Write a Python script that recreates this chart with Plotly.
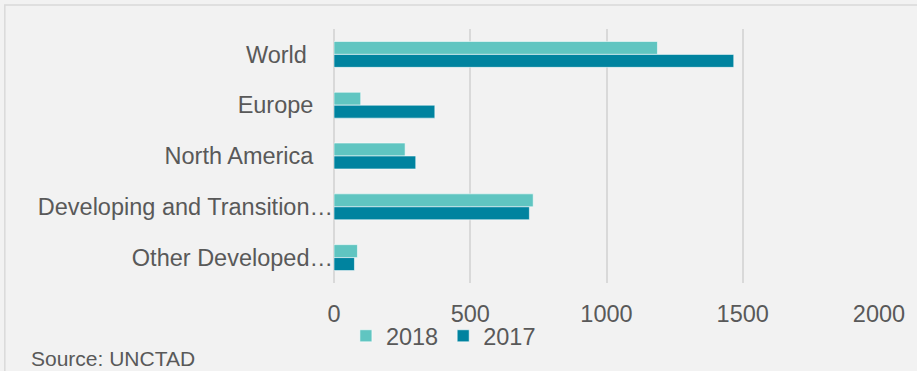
import plotly.graph_objects as go

categories = ["World", "Europe", "North America", "Developing and Transition…", "Other Developed…"]
values_2018 = [1187, 98, 261, 731, 86]
values_2017 = [1467, 370, 300, 717, 75]
x_ticks = [0, 500, 1000, 1500, 2000]
source_text = "Source: UNCTAD"

FONT = "Liberation Sans, Arial, sans-serif"
TXT = "#595959"
GRID = "#d9d9d9"

# Excel draws un-truncated labels with a gap to the axis; truncated ones touch it
pad = {"World": 4}
ticktext = [c if c.endswith("…") else c + "\u00a0" * pad.get(c, 3) for c in categories]

# plot area geometry (pixels)
W, H = 917, 371
L, R, T, B = 334, 35, 29, 88
pw, ph = W - L - R, H - T - B
def px_x(p): return (p - L) / pw
def px_y(p): return (H - B - p) / ph

fig = go.Figure()
fig.add_trace(go.Bar(y=categories, x=values_2018, name="2018", orientation="h",
                     marker=dict(color="#60C5C1", line=dict(color="rgba(255,255,255,0.55)", width=1))))
fig.add_trace(go.Bar(y=categories, x=values_2017, name="2017", orientation="h",
                     marker=dict(color="#00839F", line=dict(color="rgba(255,255,255,0.55)", width=1))))

fig.update_layout(
    width=W, height=H,
    margin=dict(l=L, r=R, t=T, b=B, pad=0),
    paper_bgcolor="#f2f2f2", plot_bgcolor="#f2f2f2",
    font=dict(family=FONT, color=TXT, size=23.5),
    barmode="group", bargap=0.49, bargroupgap=0,
    showlegend=True,
    legend=dict(orientation="h", x=px_x(444), y=px_y(336), xanchor="center", yanchor="middle",
                bgcolor="rgba(0,0,0,0)", font=dict(size=23.5, color=TXT), itemwidth=30,
                tracegroupgap=0),
    xaxis=dict(range=[0, 2000], tickvals=x_ticks, ticktext=[str(v) for v in x_ticks],
               showgrid=True, gridcolor=GRID, gridwidth=1.5, zeroline=True, zerolinecolor=GRID,
               zerolinewidth=1.5, showline=False, ticks="", ticklabelstandoff=14,
               tickfont=dict(size=23.5, color=TXT), fixedrange=True),
    yaxis=dict(categoryorder="array", categoryarray=categories, autorange="reversed",
               tickvals=categories, ticktext=ticktext, showgrid=False, zeroline=False,
               showline=False, ticks="", ticklabelstandoff=0,
               tickfont=dict(size=23.5, color=TXT), fixedrange=True),
    shapes=[dict(type="rect", xref="paper", yref="paper",
                 x0=px_x(3), x1=px_x(925), y0=px_y(380), y1=px_y(5),
                 line=dict(color=GRID, width=1.5), fillcolor="rgba(0,0,0,0)", layer="below")],
    annotations=[dict(text=source_text, xref="paper", yref="paper", x=px_x(27), y=px_y(358),
                      xanchor="left", yanchor="middle", showarrow=False,
                      font=dict(size=21, color=TXT, family=FONT))],
)

fig.write_html("out.html")
